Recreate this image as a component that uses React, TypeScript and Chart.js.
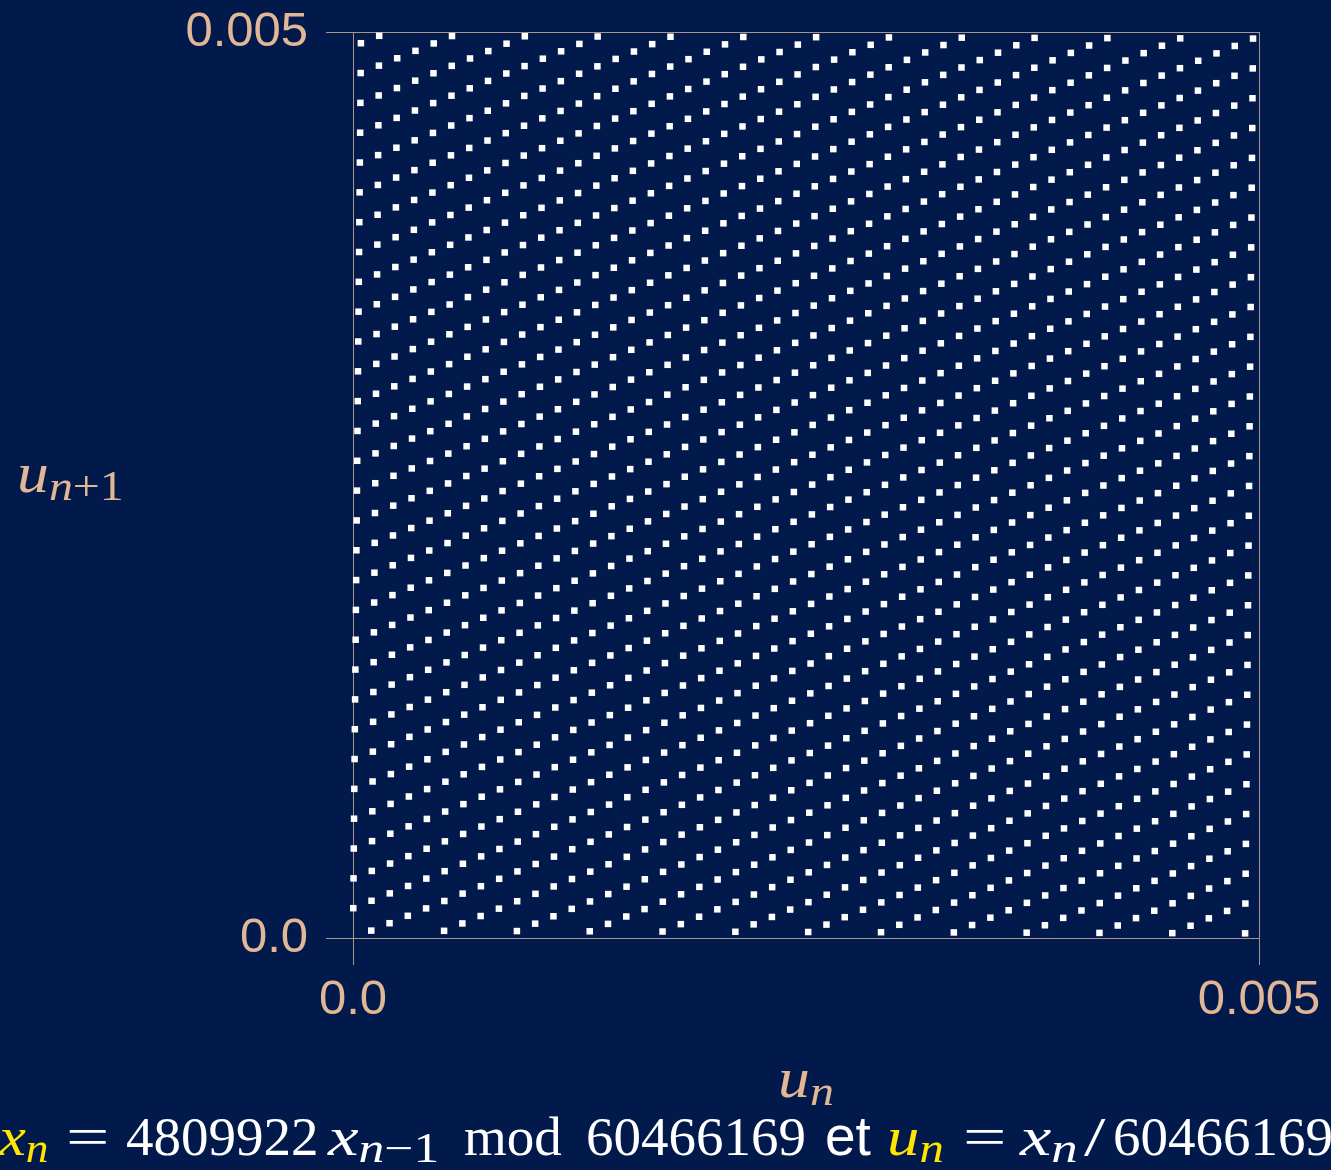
import React, { useEffect, useRef } from 'react';
import { Chart, registerables } from 'chart.js';

Chart.register(...registerables);

// Generator constants: x_n = MULTIPLIER * x_{n-1} mod MODULUS, u_n = x_n / MODULUS
const MULTIPLIER = 4809922;
const MODULUS = 60466169;

// Window of the (u_n, u_{n+1}) plane that is shown
const AXIS_MIN = 0;
const AXIS_MAX = 0.005;

const xTickValues = [0, 0.005];
const xTickLabels = ['0.0', '0.005'];
const yTickValues = [0, 0.005];
const yTickLabels = ['0.0', '0.005'];

const BG = '#011a4b';
const TAN = '#e2b795';
const GRID = '#a8948b';
const YELLOW = '#ffe500';

const SERIF = '"Liberation Serif", "Times New Roman", serif';
const SANS = '"Liberation Sans", Arial, sans-serif';

// Every pair (u_n, u_{n+1}) of the generator that lands inside the window.
function successivePairs(): { x: number; y: number }[] {
  const pts: { x: number; y: number }[] = [];
  const limit = Math.floor(AXIS_MAX * MODULUS);
  for (let xn = 1; xn <= limit; xn++) {
    const next = (MULTIPLIER * xn) % MODULUS;
    if (next <= limit) pts.push({ x: xn / MODULUS, y: next / MODULUS });
  }
  return pts;
}

const tickFont = { family: SANS, size: 49 };

const Sub: React.FC<{ children: React.ReactNode; italic?: boolean; color?: string }> = ({ children, italic, color }) => (
  <span
    style={{
      fontSize: '0.75em',
      position: 'relative',
      top: '0.17em',
      fontStyle: italic ? 'italic' : 'normal',
      color,
    }}
  >
    {children}
  </span>
);

// A piece of text whose baseline sits at the given y (line-height 1, Liberation metrics)
const Piece: React.FC<{
  left: number;
  baseline: number;
  size: number;
  color?: string;
  family?: string;
  stretch?: number;
  children: React.ReactNode;
}> = ({ left, baseline, size, color = '#ffffff', family = SERIF, stretch, children }) => (
  <div
    style={{
      position: 'absolute',
      left,
      top: baseline - 0.8375 * size,
      fontFamily: family,
      fontSize: size,
      lineHeight: 1,
      color,
      whiteSpace: 'nowrap',
      transform: stretch ? `scaleX(${stretch})` : undefined,
      transformOrigin: 'left center',
    }}
  >
    {children}
  </div>
);

export default function App() {
  const canvasRef = useRef<HTMLCanvasElement | null>(null);

  useEffect(() => {
    const canvas = canvasRef.current;
    if (!canvas) return;
    const chart = new Chart(canvas, {
      type: 'scatter',
      data: {
        datasets: [
          {
            data: successivePairs(),
            pointStyle: 'rect',
            pointRadius: 4.6,
            pointHoverRadius: 4.6,
            backgroundColor: '#ffffff',
            borderWidth: 0,
            clip: false as any,
          },
        ],
      },
      options: {
        animation: false,
        responsive: false,
        events: [],
        layout: { padding: { top: 32, right: 72, left: 0, bottom: 0 } },
        plugins: { legend: { display: false }, tooltip: { enabled: false } },
        scales: {
          x: {
            type: 'linear',
            min: AXIS_MIN,
            max: AXIS_MAX,
            afterBuildTicks: (s: any) => {
              s.ticks = xTickValues.map((v) => ({ value: v }));
            },
            afterFit: (s: any) => {
              s.height = 232;
              s.paddingLeft = 0;
              s.paddingRight = 0;
            },
            ticks: {
              callback: (_v: any, i: number) => xTickLabels[i],
              color: TAN,
              font: tickFont,
              padding: 6,
              maxRotation: 0,
              autoSkip: false,
            },
            grid: { color: GRID, lineWidth: 1, tickLength: 27, drawOnChartArea: true },
            border: { display: false },
          },
          y: {
            type: 'linear',
            min: AXIS_MIN,
            max: AXIS_MAX,
            afterBuildTicks: (s: any) => {
              s.ticks = yTickValues.map((v) => ({ value: v }));
            },
            afterFit: (s: any) => {
              s.width = 353;
              s.paddingTop = 0;
              s.paddingBottom = 0;
            },
            ticks: {
              callback: (_v: any, i: number) => yTickLabels[i],
              color: TAN,
              font: tickFont,
              padding: 18,
              autoSkip: false,
            },
            grid: { color: GRID, lineWidth: 1, tickLength: 27, drawOnChartArea: true },
            border: { display: false },
          },
        },
      },
    });
    return () => chart.destroy();
  }, []);

  const CAP = 55; // caption font size
  const BL = 1155; // caption baseline

  return (
    <div
      style={{
        position: 'fixed',
        left: 0,
        top: 0,
        width: 1331,
        height: 1170,
        background: BG,
        overflow: 'hidden',
      }}
    >
      <canvas ref={canvasRef} width={1331} height={1170} style={{ position: 'absolute', left: 0, top: 0, display: 'block' }} />

      {/* y axis title: u_{n+1} */}
      <Piece left={17} baseline={492} size={57} color={TAN} stretch={1.12}>
        <i>u</i>
        <Sub>
          <i>n</i>+1
        </Sub>
      </Piece>

      {/* x axis title: u_n */}
      <Piece left={778} baseline={1097} size={57} color={TAN} stretch={1.12}>
        <i>u</i>
        <Sub italic>n</Sub>
      </Piece>

      {/* caption: definition of the generator */}
      <Piece left={-1} baseline={BL} size={CAP} color={YELLOW} stretch={1.1}>
        <i>x</i>
        <Sub italic>n</Sub>
      </Piece>
      <Piece left={66} baseline={BL} size={CAP} stretch={1.4}>=</Piece>
      <Piece left={126} baseline={BL} size={CAP}>4809922</Piece>
      <Piece left={328} baseline={BL} size={CAP} stretch={1.25}>
        <i>x</i>
        <Sub>
          <i>n</i>−1
        </Sub>
      </Piece>
      <Piece left={464} baseline={BL} size={CAP}>mod</Piece>
      <Piece left={586} baseline={BL} size={CAP}>60466169</Piece>
      <Piece left={825} baseline={BL} size={CAP} family={SANS}>et</Piece>
      <Piece left={887} baseline={BL} size={CAP} color={YELLOW} stretch={1.18}>
        <i>u</i>
        <Sub italic>n</Sub>
      </Piece>
      <Piece left={963} baseline={BL} size={CAP} stretch={1.4}>=</Piece>
      <Piece left={1020} baseline={BL} size={CAP} stretch={1.28}>
        <i>x</i>
        <Sub italic>n</Sub>
      </Piece>
      <Piece left={1084} baseline={BL} size={CAP} stretch={1.4}>/</Piece>
      <Piece left={1113} baseline={BL} size={CAP}>60466169</Piece>
    </div>
  );
}
